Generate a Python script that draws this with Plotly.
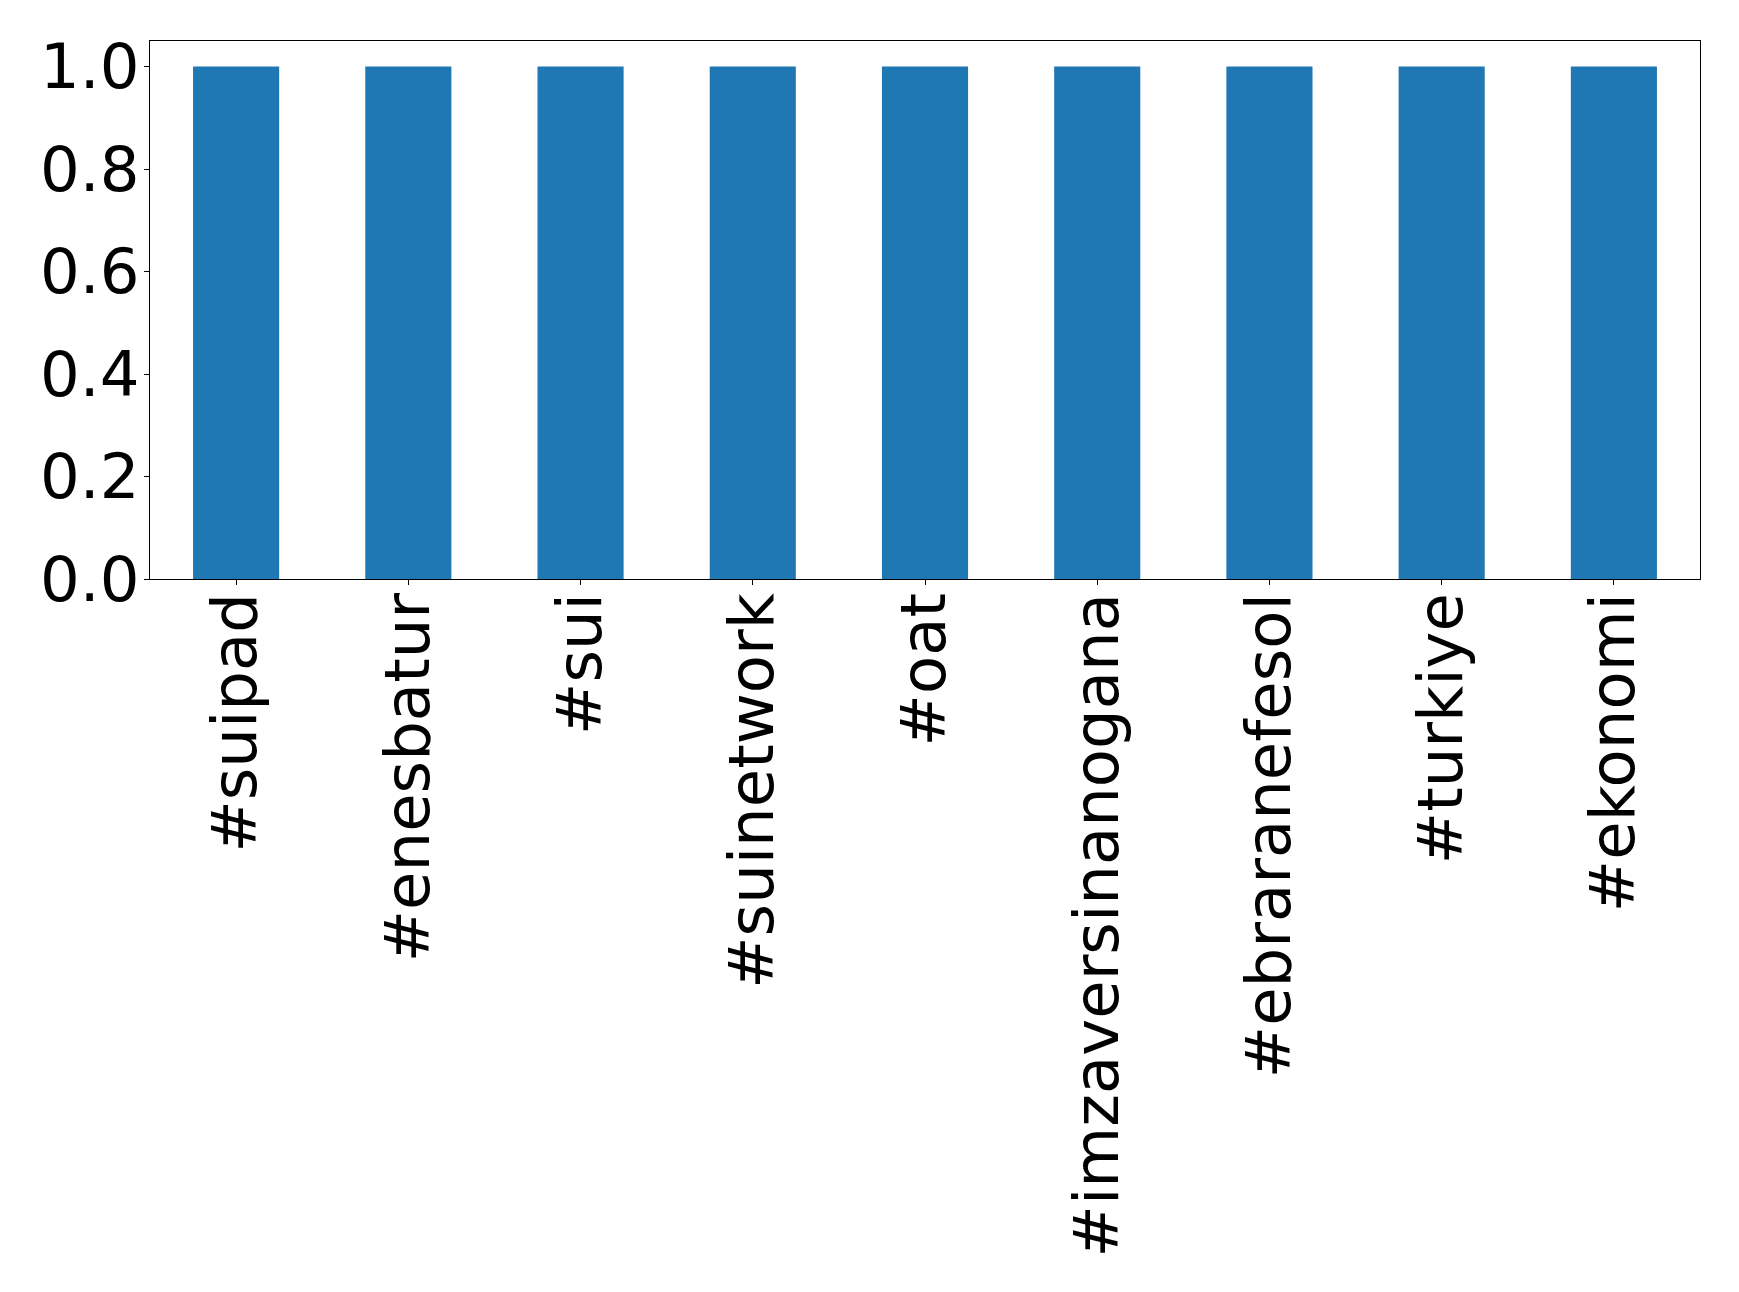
import plotly.graph_objects as go

categories = ["#suipad", "#enesbatur", "#sui", "#suinetwork", "#oat",
              "#imzaversinanogana", "#ebraranefesol", "#turkiye", "#ekonomi"]
values = [1, 1, 1, 1, 1, 1, 1, 1, 1]
y_ticks = [0.0, 0.2, 0.4, 0.6, 0.8, 1.0]
y_tick_labels = ["0.0", "0.2", "0.4", "0.6", "0.8", "1.0"]

fig = go.Figure(go.Bar(x=categories, y=values, marker_color="#1f77b4",
                       marker_line_width=0, width=0.5))

font = dict(family="DejaVu Sans", size=62.5, color="black")
fig.update_layout(
    width=1739, height=1292,
    margin=dict(l=141.5, r=47.3, t=32.5, b=721, autoexpand=False),
    paper_bgcolor="white", plot_bgcolor="white",
    showlegend=False,
    font=font,
)
fig.update_xaxes(
    range=[-0.5, 8.5], tickangle=-90, tickfont=font,
    showline=True, linecolor="black", linewidth=1.1, mirror=True,
    ticks="outside", ticklen=5, tickcolor="black", tickwidth=1.1,
    showgrid=False, zeroline=False, automargin=False,
    ticklabelstandoff=-17,
)
fig.update_yaxes(
    range=[0, 1.05], tickvals=y_ticks, ticktext=y_tick_labels, tickfont=font,
    showline=True, linecolor="black", linewidth=1.1, mirror=True,
    ticks="outside", ticklen=5, tickcolor="black", tickwidth=1.1,
    showgrid=False, zeroline=False, automargin=False,
    ticklabelstandoff=-8,
)
fig.write_html("out.html")
